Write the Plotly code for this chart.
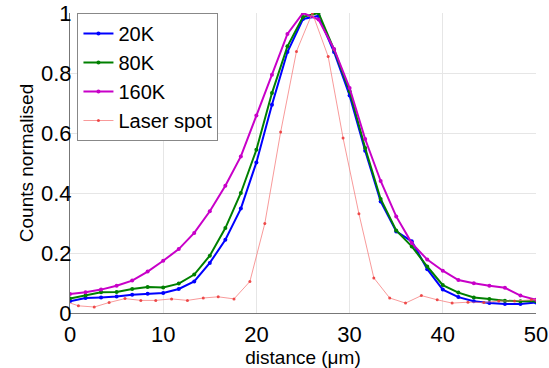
import plotly.graph_objects as go

# x positions (µm) of the three temperature series
x_temp = [0, 1.67, 3.33, 5, 6.67, 8.33, 10, 11.67, 13.33, 15, 16.67, 18.33, 20, 21.67,
          23.33, 25, 26.67, 28.33, 30, 31.67, 33.33, 35, 36.67, 38.33, 40, 41.67,
          43.33, 45, 46.67, 48.33, 50]

y_20k = [0.039, 0.050, 0.052, 0.055, 0.061, 0.064, 0.067, 0.080, 0.105, 0.167, 0.244,
         0.348, 0.502, 0.694, 0.870, 0.980, 0.990, 0.870, 0.725, 0.541, 0.372, 0.272,
         0.239, 0.146, 0.078, 0.053, 0.039, 0.033, 0.030, 0.030, 0.035]

y_80k = [0.048, 0.058, 0.069, 0.070, 0.080, 0.087, 0.085, 0.098, 0.128, 0.191, 0.283,
         0.400, 0.544, 0.733, 0.889, 0.987, 1.000, 0.878, 0.739, 0.550, 0.380, 0.275,
         0.222, 0.155, 0.093, 0.068, 0.052, 0.047, 0.041, 0.039, 0.039]

y_160k = [0.063, 0.069, 0.078, 0.091, 0.108, 0.138, 0.174, 0.213, 0.267, 0.339, 0.424,
          0.522, 0.658, 0.794, 0.930, 1.000, 0.978, 0.880, 0.750, 0.580, 0.440, 0.322,
          0.233, 0.178, 0.141, 0.110, 0.099, 0.091, 0.084, 0.058, 0.044]

x_laser = [-0.8, 0.9, 2.6, 4.2, 5.9, 7.6, 9.2, 10.9, 12.6, 14.3, 15.9, 17.6, 19.3, 20.9,
           22.6, 24.3, 26.0, 27.7, 29.3, 31.0, 32.6, 34.3, 36.0, 37.7, 39.4, 41.0,
           42.7, 44.4, 46.0, 47.7, 49.5, 51.1]
y_laser = [0.042, 0.024, 0.020, 0.035, 0.048, 0.042, 0.042, 0.047, 0.042, 0.050, 0.054,
           0.047, 0.105, 0.298, 0.603, 0.872, 1.000, 0.855, 0.583, 0.331, 0.117, 0.050,
           0.033, 0.058, 0.044, 0.033, 0.036, 0.035, 0.040, 0.040, 0.044, 0.045]

x_ticks = [0, 10, 20, 30, 40, 50]
y_ticks = [0, 0.2, 0.4, 0.6, 0.8, 1]
y_tick_labels = ["0", "0.2", "0.4", "0.6", "0.8", "1"]

fig = go.Figure()
series = [
    ("20K", x_temp, y_20k, "rgb(0,0,255)", 2, 4),
    ("80K", x_temp, y_80k, "rgb(0,128,0)", 2, 4),
    ("160K", x_temp, y_160k, "rgb(200,0,200)", 2, 4),
]
for name, xs, ys, col, w, ms in series:
    fig.add_trace(go.Scatter(x=xs, y=ys, name=name, mode="lines+markers",
                             line=dict(color=col, width=w),
                             marker=dict(color=col, size=ms, symbol="circle")))
fig.add_trace(go.Scatter(x=x_laser, y=y_laser, name="Laser spot", mode="lines+markers",
                         line=dict(color="rgba(245,120,120,0.75)", width=1),
                         marker=dict(color="rgba(235,50,50,0.85)", size=3),
                         cliponaxis=True))

font = "Liberation Sans, Arial, sans-serif"
fig.update_layout(
    width=549, height=368,
    margin=dict(l=70, r=13, t=13, b=55, autoexpand=False),
    paper_bgcolor="white", plot_bgcolor="white",
    font=dict(family=font, color="black"),
    showlegend=True,
    legend=dict(x=0.016, y=1.0, xanchor="left", yanchor="top",
                bgcolor="white", bordercolor="#888", borderwidth=1,
                font=dict(size=20, family=font), itemwidth=30,
                tracegroupgap=0),
    xaxis=dict(range=[0, 50], tickvals=x_ticks, showgrid=True, gridcolor="#e6e6e6",
               zeroline=False, showline=True, linecolor="#777", linewidth=1,
               automargin=False,
               ticks="", tickfont=dict(size=22), ticklabelstandoff=2,
               title=dict(text="distance (μm)", font=dict(size=19), standoff=0)),
    yaxis=dict(range=[0, 1], tickvals=y_ticks, ticktext=y_tick_labels, showgrid=True,
               gridcolor="#e6e6e6", zeroline=False, showline=True, linecolor="#777",
               linewidth=1, ticks="", tickfont=dict(size=22), ticklabelstandoff=-7,
               automargin=False,
               title=dict(text="Counts normalised", font=dict(size=19), standoff=2)),
)

fig.write_html("out.html")
